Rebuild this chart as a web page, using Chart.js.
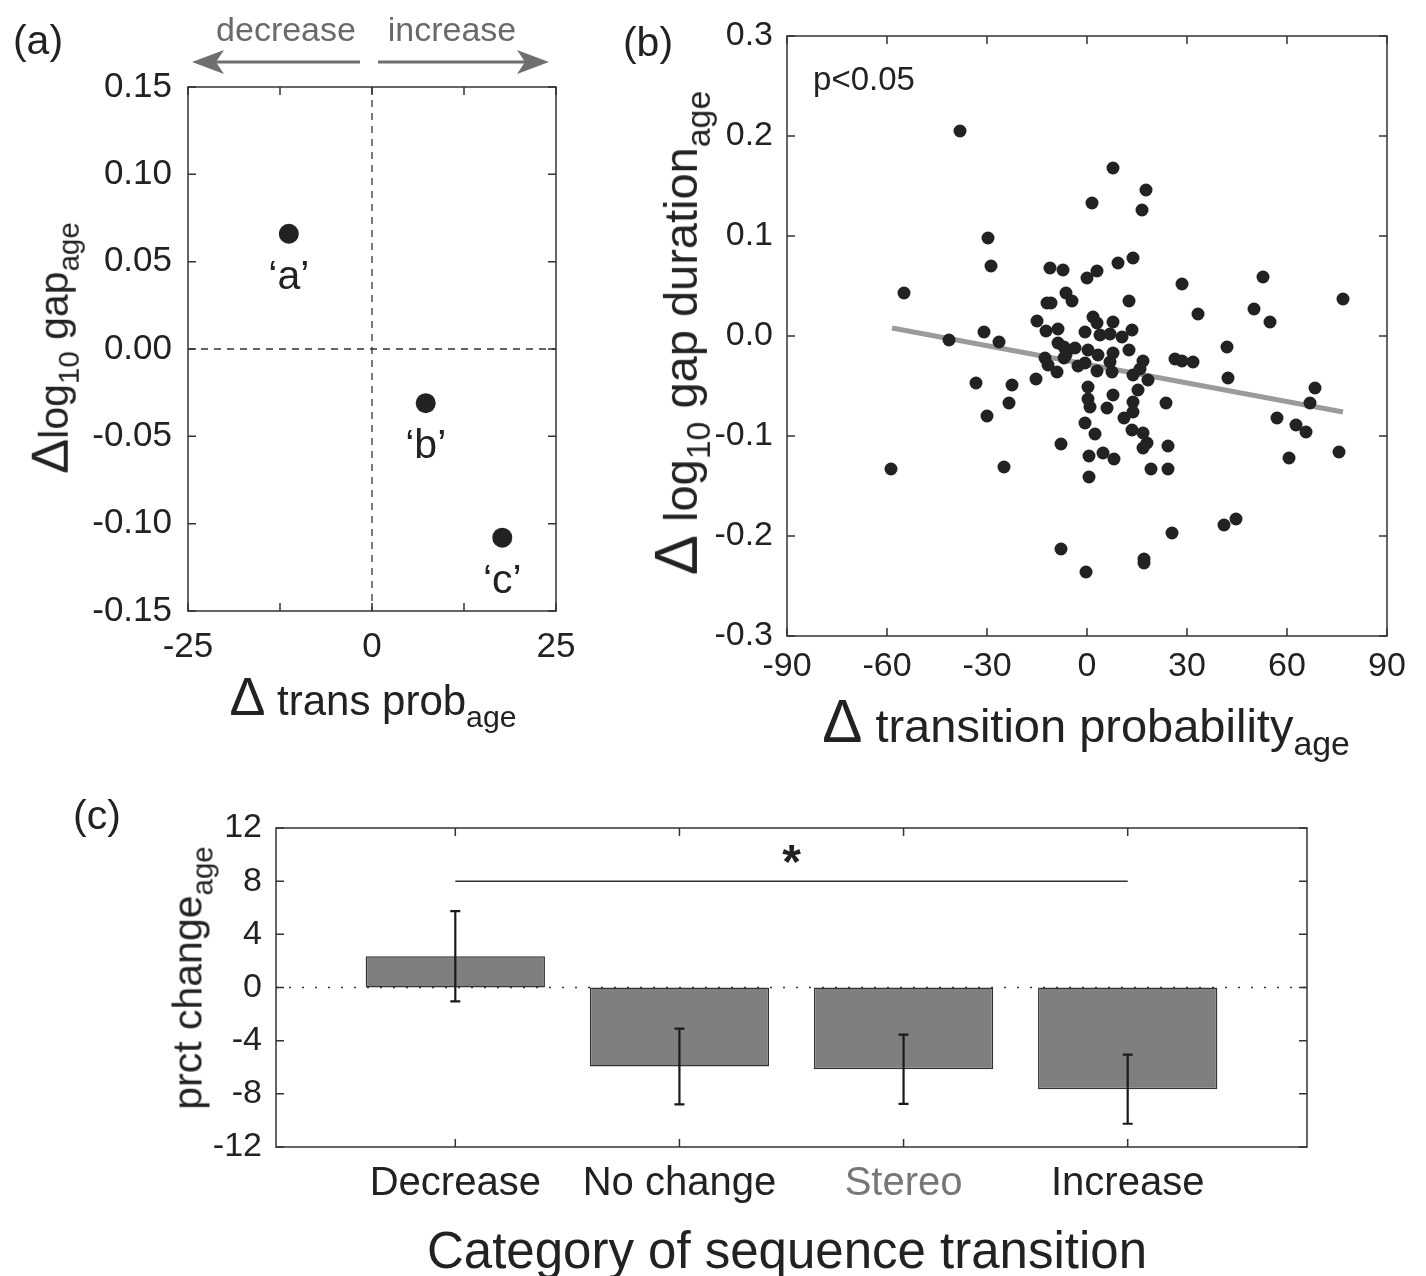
<!DOCTYPE html>
<html>
<head>
<meta charset="utf-8">
<script src="https://cdn.jsdelivr.net/npm/chart.js@4.4.1/dist/chart.umd.min.js"></script>
<style>
  body { margin: 0; background: #fff; font-family: "Liberation Sans", Arial, sans-serif; color: #222; }
  #page { position: relative; width: 1426px; height: 1276px; overflow: hidden; }
  .box { position: absolute; }
  .t { position: absolute; white-space: nowrap; line-height: 1; transform: translate(-50%, -50%); }
  .r { transform: translate(-50%, -50%) rotate(-90deg); }
  .t sub { font-size: 0.72em; vertical-align: -0.38em; line-height: 0; }
  .big { font-size: 1.28em; }
</style>
</head>
<body>
<div id="page">
  <div class="box" style="left:0;top:0;width:600px;height:700px;"><canvas id="chartA"></canvas></div>
  <div class="box" style="left:600px;top:0;width:826px;height:700px;"><canvas id="chartB"></canvas></div>
  <div class="box" style="left:0;top:760px;width:1426px;height:516px;"><canvas id="chartC"></canvas></div>

  <!-- panel (a) annotations -->
  <div class="t" style="left:38px;top:40px;font-size:41px;">(a)</div>
  <div class="t" style="left:286px;top:29px;font-size:34px;color:#6a6a6a;">decrease</div>
  <div class="t" style="left:452px;top:29px;font-size:34px;color:#6a6a6a;">increase</div>
  <svg class="box" style="left:0;top:0;" width="600" height="90">
    <line x1="360" y1="62" x2="210" y2="62" stroke="#6f6f6f" stroke-width="3"/>
    <polygon points="192,62 224,50 216,62 224,74" fill="#6f6f6f"/>
    <line x1="378" y1="62" x2="530" y2="62" stroke="#6f6f6f" stroke-width="3"/>
    <polygon points="549,62 517,50 525,62 517,74" fill="#6f6f6f"/>
  </svg>
  <div class="t r" style="left:50px;top:348px;font-size:41px;"><span class="big">&Delta;</span>log<sub>10</sub> gap<sub>age</sub></div>
  <div class="t" style="left:373px;top:697px;font-size:42px;"><span class="big">&Delta;</span> trans prob<sub>age</sub></div>

  <!-- panel (b) annotations -->
  <div class="t" style="left:648px;top:42px;font-size:41px;">(b)</div>
  <div class="t" style="left:864px;top:78px;font-size:33px;">p&lt;0.05</div>
  <div class="t r" style="left:677px;top:333px;font-size:47px;"><span class="big">&Delta;</span> log<sub>10</sub> gap duration<sub>age</sub></div>
  <div class="t" style="left:1086px;top:722px;font-size:47px;"><span class="big">&Delta;</span> transition probability<sub>age</sub></div>

  <!-- panel (c) annotations -->
  <div class="t" style="left:97px;top:815px;font-size:41px;">(c)</div>
  <div class="t r" style="left:188px;top:978px;font-size:41px;">prct change<sub>age</sub></div>
  <div class="t" style="left:787px;top:1250px;font-size:51px;">Category of sequence transition</div>
</div>

<script>
// ---- panel (a): three example transitions ----
const exampleNames = ['\u2018a\u2019', '\u2018b\u2019', '\u2018c\u2019'];
const exampleTransProb = [-11.3, 7.3, 17.7];
const exampleLogGap = [0.066, -0.031, -0.108];

// ---- panel (b): all transitions ----
const transProb = [
  -38.1, 7.8, 17.7, 1.5, 16.5, -29.7, 13.8, 9.3, -28.8, -11.1,
  -7.2, 3.0, 0.0, 28.5, 52.8, -54.9, -6.3, -4.5, -12.0, -10.8,
  12.6, 76.8, 33.3, 50.1, 54.9, -15.0, 1.8, 3.0, 7.8, -12.3,
  -8.7, -0.6, 3.9, 6.9, 10.5, 13.5, -30.9, -41.4, -26.4, -8.7,
  -6.9, -3.6, 0.3, 3.3, 7.8, 12.6, -12.6, -6.9, -11.7, -9.0,
  -15.3, -2.7, 3.0, -0.6, 6.9, 7.5, 16.8, 13.8, 15.9, 18.3,
  26.4, 28.5, 31.8, 42.0, 42.3, 15.3, 7.8, 0.3, 0.3, 0.9,
  6.0, 13.8, 13.8, 11.1, 23.7, 68.4, 66.9, -33.3, -22.5, -23.4,
  -30.0, -0.6, 2.4, 13.5, 16.8, 18.0, 16.8, -7.8, 0.6, 4.8,
  8.1, 0.6, 19.2, 24.3, 57.0, 62.7, 65.7, 60.6, 75.6, -58.8,
  -24.9, 41.1, 44.7, 25.5, 17.1, 17.1, -7.8, -0.3, 24.3, -6.3
];
const gapChange = [
  0.205, 0.168, 0.146, 0.133, 0.126, 0.098, 0.078, 0.073, 0.070, 0.068,
  0.066, 0.065, 0.058, 0.052, 0.059, 0.043, 0.043, 0.035, 0.033, 0.033,
  0.035, 0.037, 0.022, 0.027, 0.014, 0.015, 0.019, 0.013, 0.014, 0.005,
  0.007, 0.004, 0.001, 0.002, -0.001, 0.006, 0.004, -0.004, -0.006, -0.007,
  -0.011, -0.012, -0.014, -0.019, -0.017, -0.014, -0.022, -0.022, -0.029, -0.036,
  -0.043, -0.030, -0.035, -0.027, -0.026, -0.036, -0.025, -0.039, -0.033, -0.044,
  -0.023, -0.025, -0.026, -0.011, -0.042, -0.054, -0.059, -0.051, -0.063, -0.071,
  -0.072, -0.066, -0.076, -0.082, -0.067, -0.052, -0.067, -0.047, -0.049, -0.067,
  -0.080, -0.087, -0.098, -0.094, -0.097, -0.107, -0.112, -0.108, -0.120, -0.117,
  -0.123, -0.141, -0.133, -0.133, -0.082, -0.089, -0.096, -0.122, -0.116, -0.133,
  -0.131, -0.189, -0.183, -0.197, -0.223, -0.227, -0.213, -0.236, -0.110, -0.019
];
// least squares line end points
const fitX = [-58.5, 76.8];
const fitY = [0.008, -0.076];

// ---- panel (c): percent change per category ----
const categories = ['Decrease', 'No change', 'Stereo', 'Increase'];
const categoryColors = ['#222', '#222', '#777', '#222'];
const prctChange = [2.35, -5.95, -6.15, -7.65];
const prctErr = [3.4, 2.85, 2.6, 2.6];
const sigPair = [0, 3];
const sigLevel = 8;

const FONT = '"Liberation Sans", Arial, sans-serif';

// fixed axis sizes so the plot areas land where the figure has them
function fixY(w) {
  return s => { s.width = w; s.paddingTop = 0; s.paddingBottom = 0; };
}
function fixX(h) {
  return s => { s.height = h; s.paddingLeft = 0; s.paddingRight = 0; };
}

// box round the plot with inward ticks, matlab style
const framePlugin = {
  id: 'frame',
  afterDraw(chart, args, opts) {
    const { ctx, chartArea: a, scales } = chart;
    const len = opts.len || 9;
    ctx.save();
    ctx.strokeStyle = '#333';
    ctx.lineWidth = 1.5;
    ctx.beginPath();
    scales.x.ticks.forEach(t => {
      const px = scales.x.getPixelForValue(t.value);
      ctx.moveTo(px, a.bottom); ctx.lineTo(px, a.bottom - len);
      ctx.moveTo(px, a.top); ctx.lineTo(px, a.top + len);
    });
    scales.y.ticks.forEach(t => {
      const py = scales.y.getPixelForValue(t.value);
      ctx.moveTo(a.left, py); ctx.lineTo(a.left + len, py);
      ctx.moveTo(a.right, py); ctx.lineTo(a.right - len, py);
    });
    ctx.stroke();
    ctx.strokeRect(a.left, a.top, a.right - a.left, a.bottom - a.top);
    ctx.restore();
  }
};

// dashed zero lines and the point names for panel (a)
const examplePlugin = {
  id: 'examples',
  beforeDatasetsDraw(chart) {
    const { ctx, chartArea: a, scales } = chart;
    const x0 = scales.x.getPixelForValue(0);
    const y0 = scales.y.getPixelForValue(0);
    ctx.save();
    ctx.strokeStyle = '#333';
    ctx.lineWidth = 1.3;
    ctx.setLineDash([7, 6]);
    ctx.beginPath();
    ctx.moveTo(x0, a.top); ctx.lineTo(x0, a.bottom);
    ctx.moveTo(a.left, y0); ctx.lineTo(a.right, y0);
    ctx.stroke();
    ctx.restore();
  },
  afterDatasetsDraw(chart) {
    const { ctx } = chart;
    const meta = chart.getDatasetMeta(0);
    ctx.save();
    ctx.fillStyle = '#222';
    ctx.font = '41px ' + FONT;
    ctx.textAlign = 'center';
    ctx.textBaseline = 'middle';
    meta.data.forEach((pt, i) => {
      ctx.fillText(exampleNames[i], pt.x, pt.y + 44);
    });
    ctx.restore();
  }
};

// zero line, error bars and the significance bar for panel (c)
const barExtrasPlugin = {
  id: 'barExtras',
  afterDatasetsDraw(chart) {
    const { ctx, chartArea: a, scales } = chart;
    const x = scales.x, y = scales.y;
    ctx.save();
    ctx.strokeStyle = '#333';
    ctx.lineWidth = 1.5;
    ctx.setLineDash([2, 11]);
    ctx.beginPath();
    ctx.moveTo(a.left, y.getPixelForValue(0));
    ctx.lineTo(a.right, y.getPixelForValue(0));
    ctx.stroke();
    ctx.setLineDash([]);

    ctx.strokeStyle = '#1a1a1a';
    ctx.lineWidth = 2.2;
    ctx.beginPath();
    prctChange.forEach((m, i) => {
      const px = x.getPixelForValue(i);
      const top = y.getPixelForValue(m + prctErr[i]);
      const bot = y.getPixelForValue(m - prctErr[i]);
      ctx.moveTo(px, top); ctx.lineTo(px, bot);
      ctx.moveTo(px - 5, top); ctx.lineTo(px + 5, top);
      ctx.moveTo(px - 5, bot); ctx.lineTo(px + 5, bot);
    });
    ctx.stroke();

    const sy = y.getPixelForValue(sigLevel);
    ctx.strokeStyle = '#333';
    ctx.lineWidth = 1.5;
    ctx.beginPath();
    ctx.moveTo(x.getPixelForValue(sigPair[0]), sy);
    ctx.lineTo(x.getPixelForValue(sigPair[1]), sy);
    ctx.stroke();
    ctx.fillStyle = '#222';
    ctx.font = 'bold 48px ' + FONT;
    ctx.textAlign = 'center';
    ctx.textBaseline = 'middle';
    ctx.fillText('*', x.getPixelForValue((sigPair[0] + sigPair[1]) / 2), sy - 16);
    ctx.restore();
  }
};

Chart.defaults.font.family = FONT;
Chart.defaults.color = '#222';
Chart.defaults.animation = false;
Chart.defaults.devicePixelRatio = 1;
Chart.defaults.plugins.legend.display = false;
Chart.defaults.plugins.tooltip.enabled = false;

// panel (a)
new Chart(document.getElementById('chartA'), {
  type: 'scatter',
  data: {
    datasets: [{
      data: exampleTransProb.map((v, i) => ({ x: v, y: exampleLogGap[i] })),
      pointRadius: 10,
      pointBackgroundColor: '#222',
      pointBorderWidth: 0
    }]
  },
  options: {
    responsive: true,
    maintainAspectRatio: false,
    layout: { padding: { top: 87, right: 44, left: 0, bottom: 0 } },
    scales: {
      x: {
        type: 'linear', min: -25, max: 25,
        grid: { display: false, drawTicks: false },
        border: { display: false },
        afterFit: fixX(89),
        ticks: {
          stepSize: 12.5, padding: 19, maxRotation: 0,
          font: { size: 35, lineHeight: 1 },
          callback: v => (v % 25 === 0 ? String(v) : '')
        }
      },
      y: {
        type: 'linear', min: -0.15, max: 0.15,
        grid: { display: false, drawTicks: false },
        border: { display: false },
        afterFit: fixY(188),
        ticks: {
          stepSize: 0.05, padding: 16,
          font: { size: 35, lineHeight: 1 },
          callback: v => v.toFixed(2)
        }
      }
    },
    plugins: { frame: { len: 8 } }
  },
  plugins: [framePlugin, examplePlugin]
});

// panel (b)
new Chart(document.getElementById('chartB'), {
  type: 'scatter',
  data: {
    datasets: [
      {
        data: transProb.map((v, i) => ({ x: v, y: gapChange[i] })),
        pointRadius: 6.5,
        pointBackgroundColor: '#222',
        pointBorderWidth: 0,
        order: 1
      },
      {
        type: 'line',
        data: fitX.map((v, i) => ({ x: v, y: fitY[i] })),
        borderColor: '#9b9b9b',
        borderWidth: 5,
        pointRadius: 0,
        order: 2
      }
    ]
  },
  options: {
    responsive: true,
    maintainAspectRatio: false,
    layout: { padding: { top: 36, right: 39, left: 0, bottom: 0 } },
    scales: {
      x: {
        type: 'linear', min: -90, max: 90,
        grid: { display: false, drawTicks: false },
        border: { display: false },
        afterFit: fixX(64),
        ticks: { stepSize: 30, padding: 14, maxRotation: 0, font: { size: 34, lineHeight: 1 } }
      },
      y: {
        type: 'linear', min: -0.3, max: 0.3,
        grid: { display: false, drawTicks: false },
        border: { display: false },
        afterFit: fixY(187),
        ticks: {
          stepSize: 0.1, padding: 14,
          font: { size: 34, lineHeight: 1 },
          callback: v => v.toFixed(1)
        }
      }
    },
    plugins: { frame: { len: 8 } }
  },
  plugins: [framePlugin]
});

// panel (c)
new Chart(document.getElementById('chartC'), {
  type: 'bar',
  data: {
    datasets: [{
      data: prctChange.map((v, i) => ({ x: i, y: v })),
      backgroundColor: '#7f7f7f',
      borderColor: '#333',
      borderWidth: 1.5,
      borderSkipped: false,
      categoryPercentage: 1,
      barPercentage: 0.8
    }]
  },
  options: {
    responsive: true,
    maintainAspectRatio: false,
    layout: { padding: { top: 68, right: 119, left: 0, bottom: 0 } },
    scales: {
      x: {
        type: 'linear', min: -0.8, max: 3.8, offset: false,
        grid: { display: false, drawTicks: false, offset: false },
        border: { display: false },
        afterFit: fixX(129),
        afterBuildTicks: s => { s.ticks = categories.map((c, i) => ({ value: i })); },
        ticks: {
          padding: 17, maxRotation: 0, autoSkip: false,
          font: { size: 40, lineHeight: 1 },
          color: c => categoryColors[c.index],
          callback: v => categories[v]
        }
      },
      y: {
        type: 'linear', min: -12, max: 12,
        grid: { display: false, drawTicks: false },
        border: { display: false },
        afterFit: fixY(276),
        ticks: { stepSize: 4, padding: 14, font: { size: 34, lineHeight: 1 } }
      }
    },
    plugins: { frame: { len: 8 } }
  },
  plugins: [framePlugin, barExtrasPlugin]
});
</script>
</body>
</html>
